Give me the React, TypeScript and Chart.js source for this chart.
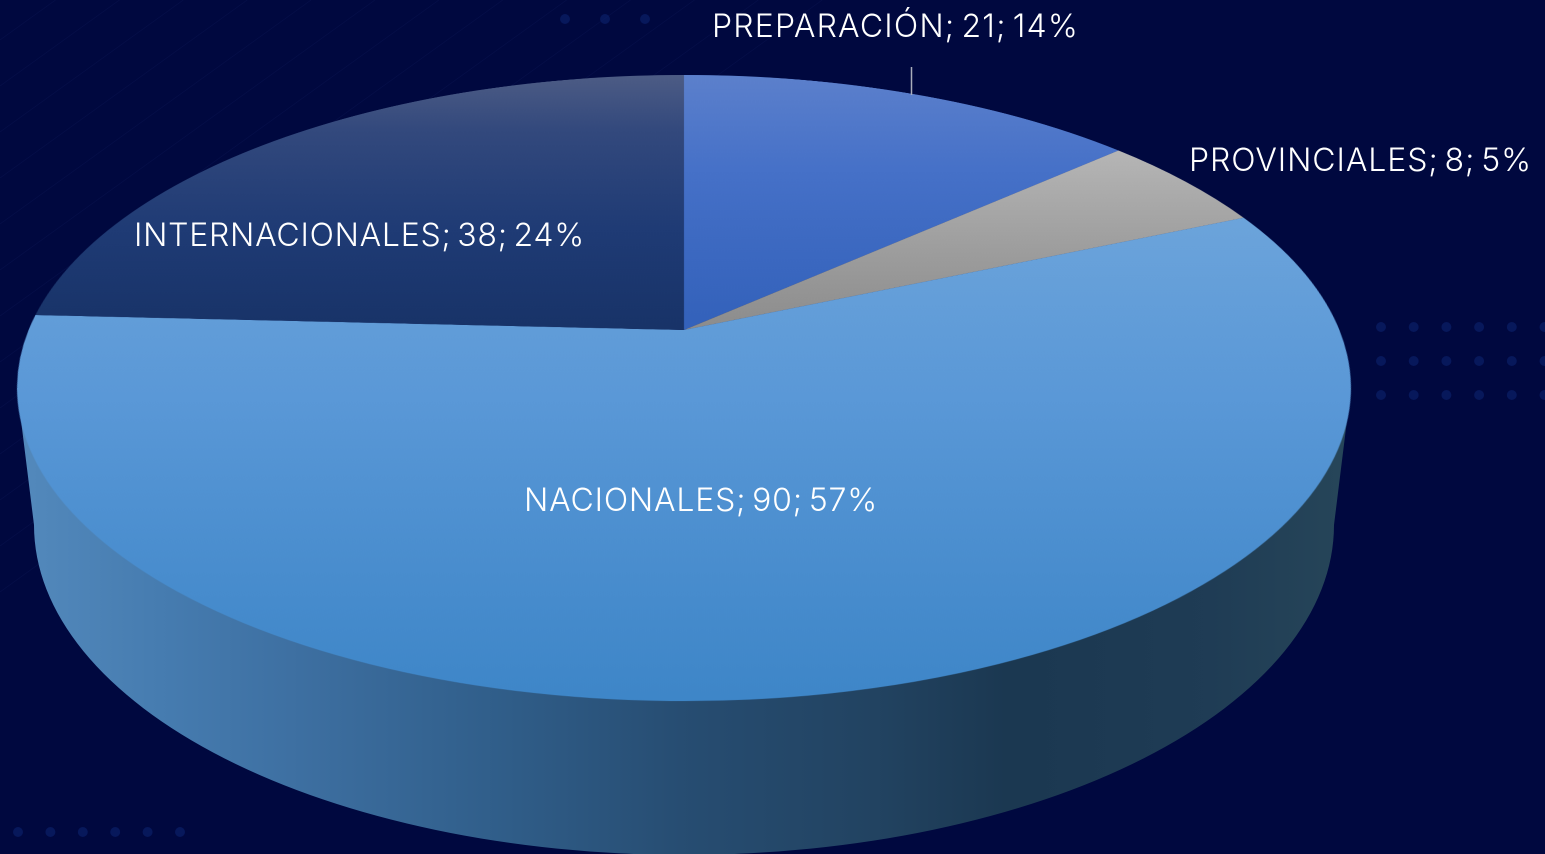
import React, { useEffect, useRef } from "react";
import { Chart, registerables } from "chart.js";

Chart.register(...registerables);

const categories = ["PREPARACIÓN", "PROVINCIALES", "NACIONALES", "INTERNACIONALES"];
const values = [21, 8, 90, 38];
const percents = [14, 5, 57, 24];

const WIDTH = 1545;
const HEIGHT = 854;
const DPR = 2;

// flat pie, as Chart.js lays it out before the perspective is applied
const SRC_R = 420;
const SRC_CX = WIDTH / 2;
const SRC_CY = HEIGHT / 2;

// perspective of the disc: apex position and projection coefficients
const APEX_X = 684;
const APEX_Y = 330;
const PA = 655.4;
const PB = 0.1853;
const PC = 302.3;

const vFromScreenY = (y: number) => {
  const t = APEX_Y - y;
  return t / (PC - PB * t);
};

const sliceStops: [number, string][][] = [
  [[75, "#5c80cc"], [170, "#4671c8"], [320, "#3462bb"]],
  [[150, "#b6b6b6"], [330, "#8c8c8c"]],
  [[218, "#6ca4db"], [400, "#5a98d7"], [701, "#3e86c8"]],
  [[75, "#4d5c85"], [130, "#33497d"], [230, "#1f3b75"], [330, "#183368"]],
];

const wallStops: [number, string][] = [
  [0, "#5288bb"], [0.1, "#467cb0"], [0.2, "#3e70a2"], [0.35, "#315f8b"],
  [0.5, "#274d72"], [0.65, "#224361"], [0.75, "#1b3851"], [0.9, "#1f3c55"], [1, "#264559"],
];

const labelAnchors = [
  { x: 712, y: 37, w: 367 },
  { x: 1189, y: 171, w: 343 },
  { x: 524, y: 511, w: 354 },
  { x: 134, y: 246, w: 451 },
];

const FONT = "300 32px Inter";

function paintBackground(ctx: CanvasRenderingContext2D) {
  ctx.fillStyle = "#00083f";
  ctx.fillRect(0, 0, WIDTH, HEIGHT);
  ctx.strokeStyle = "rgba(50,80,160,0.09)";
  ctx.lineWidth = 1;
  for (let i = 0; i < 13; i++) {
    const y0 = 40 + i * 46;
    ctx.beginPath();
    ctx.moveTo(0, y0);
    ctx.lineTo(y0 / 0.72, 0);
    ctx.stroke();
  }
  ctx.fillStyle = "rgba(14,40,120,0.5)";
  const dot = (x: number, y: number) => {
    ctx.beginPath();
    ctx.arc(x, y, 5, 0, Math.PI * 2);
    ctx.fill();
  };
  for (const y of [327, 361, 395]) for (let i = 0; i < 6; i++) dot(1381 + i * 32.7, y);
  for (let i = 0; i < 6; i++) dot(18 + i * 32.4, 832);
  for (let i = 0; i < 3; i++) dot(565 + i * 40, 19);
}

function paintWall(ctx: CanvasRenderingContext2D) {
  const g = ctx.createLinearGradient(34, 0, 1334, 0);
  wallStops.forEach(([p, c]) => g.addColorStop(p, c));
  ctx.fillStyle = g;
  ctx.beginPath();
  ctx.moveTo(17, 388);
  ctx.lineTo(34, 525);
  ctx.ellipse(684, 525, 650, 330, 0, Math.PI, 0, true);
  ctx.lineTo(1351, 388);
  ctx.closePath();
  ctx.fill();
}

const perspectivePlugin = {
  id: "perspective",
  afterDatasetsDraw(chart: any) {
    const ctx: CanvasRenderingContext2D = chart.ctx;
    const cv: HTMLCanvasElement = chart.canvas;
    const tmp = document.createElement("canvas");
    tmp.width = cv.width;
    tmp.height = cv.height;
    tmp.getContext("2d")!.drawImage(cv, 0, 0);

    ctx.save();
    ctx.setTransform(DPR, 0, 0, DPR, 0, 0);
    ctx.clearRect(0, 0, WIDTH, HEIGHT);
    paintBackground(ctx);
    paintWall(ctx);

    // warp the flat pie row by row onto the tilted disc
    ctx.setTransform(1, 0, 0, 1, 0, 0);
    ctx.imageSmoothingEnabled = true;
    ctx.imageSmoothingQuality = "high";
    const srcRow = (v: number) => (SRC_CY - v * SRC_R) * DPR;
    for (let yo = 70 * DPR; yo < 706 * DPR; yo++) {
      const v0 = vFromScreenY(yo / DPR);
      const v1 = vFromScreenY((yo + 1) / DPR);
      const vm = (v0 + v1) / 2;
      if (Math.abs(vm) > 1.002) continue;
      const s = PA / (1 + PB * vm) / SRC_R;
      const sy = srcRow(v0);
      const sh = srcRow(v1) - sy;
      ctx.drawImage(tmp, 0, sy, tmp.width, sh, DPR * (APEX_X - SRC_CX * s), yo, tmp.width * s, 1);
    }

    ctx.setTransform(DPR, 0, 0, DPR, 0, 0);
    // leader line
    ctx.strokeStyle = "#a9adbb";
    ctx.lineWidth = 1.5;
    ctx.beginPath();
    ctx.moveTo(911.5, 67);
    ctx.lineTo(911.5, 95);
    ctx.stroke();

    // data labels, each fitted to its width in the reference
    ctx.fillStyle = "#ffffff";
    ctx.font = FONT;
    ctx.textAlign = "left";
    ctx.textBaseline = "alphabetic";
    (ctx as any).wordSpacing = "-4px";
    categories.forEach((c, i) => {
      const text = `${c}; ${values[i]}; ${percents[i]}%`;
      (ctx as any).letterSpacing = "0px";
      const measured = ctx.measureText(text).width;
      (ctx as any).letterSpacing = `${(labelAnchors[i].w - measured) / text.length}px`;
      ctx.fillText(text, labelAnchors[i].x, labelAnchors[i].y);
    });
    ctx.restore();
  },
};

export default function App() {
  const ref = useRef<HTMLCanvasElement>(null);
  useEffect(() => {
    document.body.style.margin = "0";
    document.body.style.background = "#00083f";
    document.body.style.overflow = "hidden";
    const ctx = ref.current!.getContext("2d")!;
    const colors = sliceStops.map((stops) => {
      const g = ctx.createLinearGradient(0, SRC_CY - SRC_R, 0, SRC_CY + SRC_R);
      stops.forEach(([y, c]) => {
        const v = Math.max(-1, Math.min(1, vFromScreenY(y)));
        g.addColorStop((1 - v) / 2, c);
      });
      return g;
    });
    const chart = new Chart(ref.current!, {
      type: "pie",
      data: {
        labels: categories,
        datasets: [{ data: values, backgroundColor: colors, borderWidth: 0, radius: SRC_R }],
      },
      options: {
        responsive: false,
        animation: false,
        devicePixelRatio: DPR,
        events: [],
        layout: { padding: 0 },
        plugins: { legend: { display: false }, tooltip: { enabled: false } },
      },
      plugins: [perspectivePlugin],
    } as any);
    return () => chart.destroy();
  }, []);
  return <canvas ref={ref} width={WIDTH} height={HEIGHT} style={{ display: "block", width: WIDTH, height: HEIGHT }} />;
}
